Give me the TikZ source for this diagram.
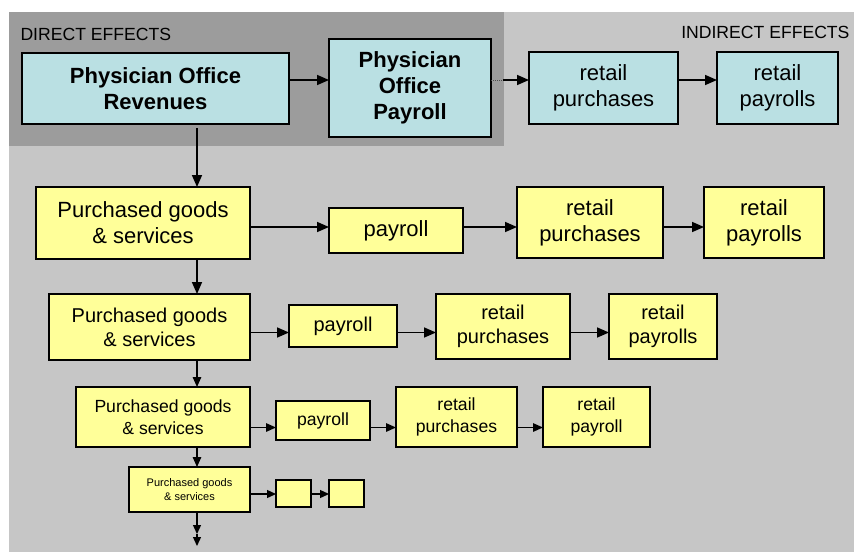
\documentclass[tikz,border=0pt]{standalone}
\usepackage{fontspec}
\setmainfont{Liberation Sans}
\usetikzlibrary{arrows.meta}
\definecolor{bglight}{HTML}{C6C6C6}
\definecolor{bgdark}{HTML}{9C9C9C}
\definecolor{cyanbox}{HTML}{BAE0E3}
\definecolor{yelbox}{HTML}{FFFF99}
\tikzset{
  box/.style={draw=black, line width=1.1pt, inner sep=0pt, outer sep=0pt, align=center},
  dbox/.style={box, fill=cyanbox},
  ybox/.style={box, fill=yelbox},
  fA/.style={font=\fontsize{22}{26}\selectfont},
  fAb/.style={font=\fontsize{22}{26}\bfseries\selectfont},
  fB/.style={font=\fontsize{20}{24}\selectfont},
  fC/.style={font=\fontsize{17.6}{21.5}\selectfont},
  fD/.style={font=\fontsize{11}{13.5}\selectfont},
  arr/.style={line width=1.6pt, -{Triangle[length=12pt,width=10pt]}},
  arrs/.style={line width=1.4pt, -{Triangle[length=10pt,width=8.5pt]}},
  arrt/.style={line width=1.3pt, -{Triangle[length=9pt,width=8pt]}},
}
\begin{document}
\begin{tikzpicture}[x=1pt,y=-1pt]
\useasboundingbox (0,0) rectangle (854,552);
\fill[white] (0,0) rectangle (854,552);
\fill[bglight] (9,12) rectangle (854,552);
\fill[bgdark] (9,12) rectangle (504,146);
\node[anchor=base west, font=\fontsize{17.6}{20}\selectfont] (dl) at (17,40) {DIRECT EFFECTS};
\node[anchor=base east, font=\fontsize{17.6}{20}\selectfont] (il) at (853,38) {INDIRECT EFFECTS};
% row 1
\node[dbox, fAb, minimum width=267, minimum height=71] (A) at (155.5,88.5) {Physician Office\\Revenues};
\node[dbox, fAb, minimum width=162, minimum height=98] (B) at (410,88) {Physician\\Office\\Payroll};
\node[dbox, fA, minimum width=149, minimum height=72] (C) at (603.5,88) {retail\\purchases};
\node[dbox, fA, minimum width=121, minimum height=72] (D) at (777.5,88) {retail\\payrolls};
% row 2
\node[ybox, fA, minimum width=214, minimum height=72] (E) at (143,223) {Purchased goods\\\& services};
\node[ybox, fA, minimum width=134, minimum height=45] (F) at (396,230.5) {payroll};
\node[ybox, fA, minimum width=146, minimum height=71] (G) at (590,222.5) {retail\\purchases};
\node[ybox, fA, minimum width=120, minimum height=71] (H) at (764,222.5) {retail\\payrolls};
% row 3
\node[ybox, fB, minimum width=201, minimum height=66] (I) at (149.5,327) {Purchased goods\\\& services};
\node[ybox, fB, minimum width=108, minimum height=42] (J) at (343,326) {payroll};
\node[ybox, fB, minimum width=134, minimum height=65] (K) at (503,326.5) {retail\\purchases};
\node[ybox, fB, minimum width=108, minimum height=65] (L) at (663,326.5) {retail\\payrolls};
% row 4
\node[ybox, fC, minimum width=174, minimum height=60] (M) at (163,417) {Purchased goods\\\& services};
\node[ybox, fC, minimum width=94, minimum height=39] (N) at (323,420.5) {payroll};
\node[ybox, fC, minimum width=121, minimum height=60] (O) at (456.5,417) {retail\\purchases};
\node[ybox, fC, minimum width=107, minimum height=60] (P) at (596.5,417) {retail\\payroll};
% row 5
\node[ybox, fD, minimum width=121, minimum height=45] (Q) at (189.5,489.5) {Purchased goods\\\& services};
\node[ybox, minimum width=35, minimum height=27] (R) at (293.5,493.5) {};
\node[ybox, minimum width=35, minimum height=27] (S) at (346.5,493.5) {};
% helper coordinates
\coordinate (y1) at (0,80);
\coordinate (y2) at (0,227);
\coordinate (y3) at (0,332.5);
\coordinate (y4) at (0,427.5);
\coordinate (y5) at (0,494);
\coordinate (vx) at (197,0);
\coordinate (bc) at (503,80);
\coordinate (d1) at (197,534);
\coordinate (d2) at (197,546);
% row 1 arrows
\draw[arr] (A.east |- y1) -- (B.west |- y1);
\draw[gray!60!black, line width=1pt, densely dotted] (B.east |- y1) -- (bc);
\draw[arr] (bc) -- (C.west |- y1);
\draw[arr] (C.east |- y1) -- (D.west |- y1);
% row 2 arrows
\draw[arr] (E.east |- y2) -- (F.west |- y2);
\draw[arr] (F.east |- y2) -- (G.west |- y2);
\draw[arr] (G.east |- y2) -- (H.west |- y2);
% row 3 arrows
\draw[arr] (I.east |- y3) -- (J.west |- y3);
\draw[arr] (J.east |- y3) -- (K.west |- y3);
\draw[arr] (K.east |- y3) -- (L.west |- y3);
% row 4 arrows
\draw[arrs] (M.east |- y4) -- (N.west |- y4);
\draw[arrs] (N.east |- y4) -- (O.west |- y4);
\draw[arrs] (O.east |- y4) -- (P.west |- y4);
% row 5 arrows
\draw[arrt] (Q.east |- y5) -- (R.west |- y5);
\draw[arrt] (R.east |- y5) -- (S.west |- y5);
% vertical arrows
\draw[arr] ([yshift=-4pt]A.south -| vx) -- (E.north -| vx);
\draw[arr] (E.south -| vx) -- (I.north -| vx);
\draw[arrs] (I.south -| vx) -- (M.north -| vx);
\draw[arrs] (M.south -| vx) -- (Q.north -| vx);
\draw[arrt] (Q.south -| vx) -- (d1);
\draw[arrt] (d1) -- (d2);
\end{tikzpicture}
\end{document}
